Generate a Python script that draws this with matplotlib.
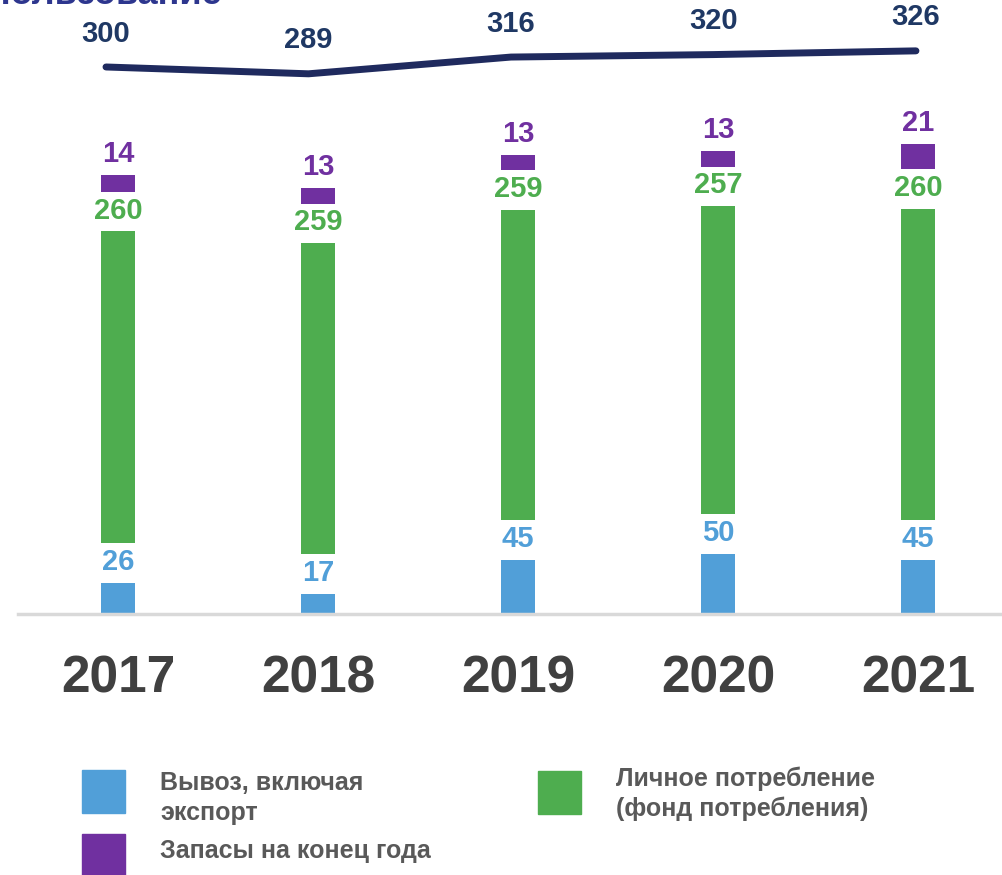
import numpy as np
import matplotlib.pyplot as plt

plt.rcParams['font.family'] = ['Liberation Sans', 'DejaVu Sans']

years = ["2017", "2018", "2019", "2020", "2021"]
export = [26, 17, 45, 50, 45]
consumption = [260, 259, 259, 257, 260]
stocks = [14, 13, 13, 13, 21]
total_use = [300, 289, 316, 320, 326]

c_blue = "#519FD8"
c_green = "#4EAD4F"
c_purple = "#7030A0"
c_line = "#1F2A5E"
c_label = "#1F3864"

gap = 33  # visual gap between stacked segments (data units)

fig = plt.figure(figsize=(10.03, 8.75), dpi=100)
rect = [18 / 1003, 261 / 875, 1000 / 1003, 614 / 875]
ax = fig.add_axes(rect)
x = np.arange(len(years))
w = 0.17

export = np.array(export)
consumption = np.array(consumption)
stocks = np.array(stocks)

ax.bar(x, export, w, color=c_blue)
g_bottom = export + gap
ax.bar(x, consumption, w, bottom=g_bottom, color=c_green)
p_bottom = g_bottom + consumption + gap
ax.bar(x, stocks, w, bottom=p_bottom, color=c_purple)

for tops, vals, col in [(export, export, c_blue),
                        (g_bottom + consumption, consumption, c_green),
                        (p_bottom + stocks, stocks, c_purple)]:
    for xi, top, v in zip(x, tops, vals):
        ax.annotate(str(v), (xi, top), xytext=(0, 5), textcoords="offset points",
                    ha="center", va="bottom", fontsize=21, fontweight="bold", color=col)

ax.set_xlim(-0.5, 4.5)
ax.set_ylim(0, 512)
ax.axhline(0, color="#D9D9D9", lw=2.5, clip_on=False)
for s in ax.spines.values():
    s.set_visible(False)
ax.set_yticks([])
ax.set_xticks([])
for xi, yr in zip(x, years):
    ax.annotate(yr, (xi, 0), xytext=(0, -47), textcoords="offset points",
                ha="center", va="center", fontsize=37, fontweight="bold", color="#404040")

# total use line on its own (overlaid) axes
ax2 = fig.add_axes(rect, label="line")
ax2.patch.set_alpha(0)
ax2.plot(x, total_use, color=c_line, lw=5, solid_capstyle="round", solid_joinstyle="round")
ax2.set_ylim(-582, 408)
ax2.set_xlim(-0.4346, 4.504)
ax2.axis("off")
for xi, v in zip(x, total_use):
    ax2.annotate(str(v), (xi, v), xytext=(0, 14), textcoords="offset points",
                 ha="center", va="bottom", fontsize=21, fontweight="bold", color=c_label)

# title, mostly cropped at the top edge
fig.text(222 / 1003, 1 - 4 / 875, "Использование", ha="right", va="baseline",
         fontsize=26, fontweight="bold", color="#2D368E")

# legend
legend_items = [
    (82, 770, c_blue, ["Вывоз, включая", "экспорт"], 790),
    (538, 771, c_green, ["Личное потребление", "(фонд потребления)"], 786),
    (82, 834, c_purple, ["Запасы на конец года"], 858),
]
for lx, ly, col, lines, base in legend_items:
    fig.patches.append(plt.Rectangle((lx / 1003, 1 - (ly + 43) / 875), 43 / 1003, 43 / 875,
                                     transform=fig.transFigure, color=col))
    for k, line in enumerate(lines):
        fig.text((lx + 78) / 1003, 1 - (base + 30 * k) / 875, line, ha="left",
                 va="baseline", fontsize=18, fontweight="bold", color="#595959")

fig.savefig("out.png", dpi=100)
